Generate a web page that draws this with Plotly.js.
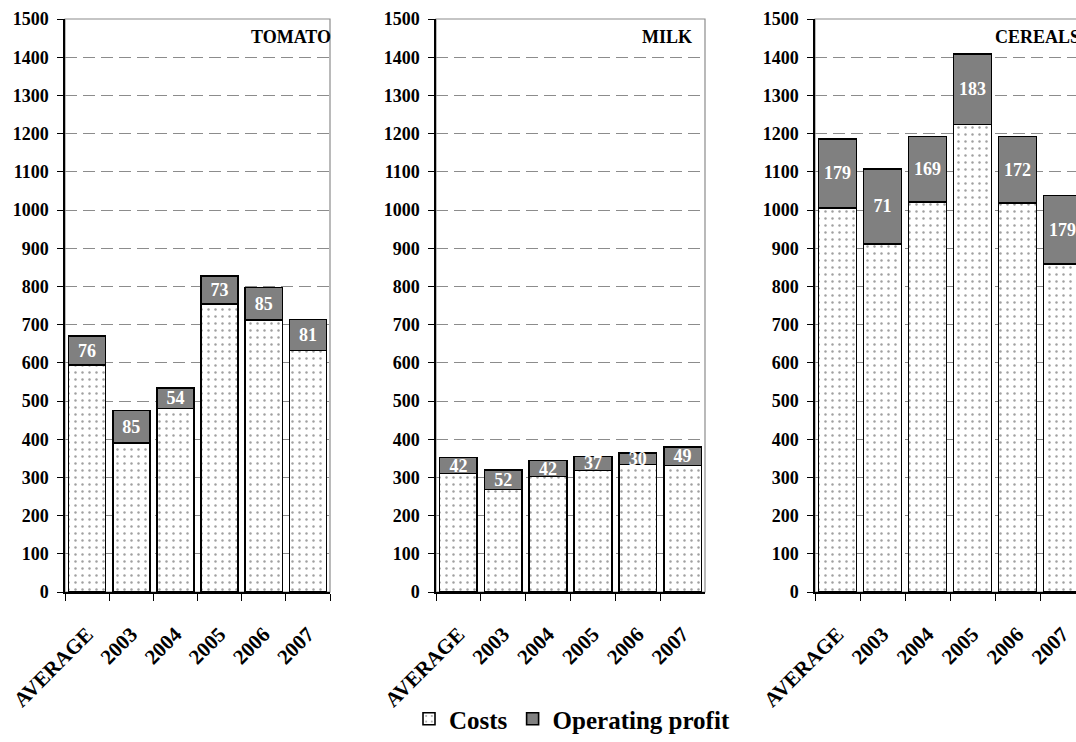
<!DOCTYPE html>
<html>
<head>
<meta charset="utf-8">
<script src="https://cdn.plot.ly/plotly-3.0.1.min.js"></script>
<style>
html, body { margin: 0; padding: 0; overflow: hidden; background: #fff; width: 1076px; height: 742px; }
#chart { width: 1100px; height: 742px; }
</style>
</head>
<body>
<div id="chart"></div>
<script>
// ---- data ----
const categories = ['AVERAGE', '2003', '2004', '2005', '2006', '2007'];

const tomatoCosts = [594, 390, 480, 754, 712, 632];
const tomatoProfit = [76, 85, 54, 73, 85, 81];
const tomatoProfitLabels = ['76', '85', '54', '73', '85', '81'];

const milkCosts = [310, 268, 302, 318, 334, 331];
const milkProfit = [42, 52, 42, 37, 30, 49];
const milkProfitLabels = ['42', '52', '42', '37', '30', '49'];

const cerealsCosts = [1006, 911, 1021, 1224, 1019, 859];
const cerealsProfit = [180, 197, 171, 184, 173, 179];
const cerealsProfitLabels = ['179', '71', '169', '183', '172', '179'];

const panelTitles = ['TOMATO', 'MILK', 'CEREALS'];
const seriesNames = ['Costs', 'Operating profit'];

// ---- styling ----
const FONT = 'Liberation Serif, Times New Roman, serif';
const W = 1100;
const costMarker = {
  color: '#ffffff',
  line: { color: '#000000', width: 1.6 },
  pattern: { shape: '.', size: 7, solidity: 0.1, fgcolor: '#a0a0a0', bgcolor: '#ffffff', fillmode: 'replace' }
};
const profitMarker = { color: '#808080', line: { color: '#000000', width: 1.6 } };

const panels = [
  { costs: tomatoCosts, profit: tomatoProfit, labels: tomatoProfitLabels, xa: 'x', ya: 'y' },
  { costs: milkCosts, profit: milkProfit, labels: milkProfitLabels, xa: 'x2', ya: 'y2' },
  { costs: cerealsCosts, profit: cerealsProfit, labels: cerealsProfitLabels, xa: 'x3', ya: 'y3' }
];

const traces = [];
panels.forEach((p, i) => {
  traces.push({
    type: 'bar', name: seriesNames[0], x: categories, y: p.costs,
    xaxis: p.xa, yaxis: p.ya, marker: costMarker,
    legendgroup: 'costs', showlegend: i === 0, hoverinfo: 'y'
  });
  traces.push({
    type: 'bar', name: seriesNames[1], x: categories, y: p.profit,
    xaxis: p.xa, yaxis: p.ya, marker: profitMarker,
    text: p.labels, textposition: 'inside', insidetextanchor: 'middle',
    constraintext: 'none', textangle: 0,
    textfont: { family: FONT, size: 18, color: '#ffffff', weight: 'bold' },
    legendgroup: 'profit', showlegend: i === 0, hoverinfo: 'y'
  });
});

const px = v => v / W;
const domains = [[px(65), px(330)], [px(436), px(705)], [px(815), px(1085)]];

function xAxis(dom, anchor) {
  return {
    domain: dom, anchor: anchor, type: 'category',
    showline: true, linecolor: '#000000', linewidth: 1.5,
    ticks: 'outside', tickson: 'boundaries', ticklen: 7, tickcolor: '#000000', tickwidth: 1.2,
    tickangle: -45, ticklabelstandoff: 20, showgrid: false, zeroline: false,
    tickfont: { family: FONT, size: 21, color: '#000000', weight: 'bold' }
  };
}
function yAxis(anchor) {
  return {
    anchor: anchor, domain: [0, 1], range: [0, 1500], dtick: 100, tick0: 0,
    showline: true, linecolor: '#000000', linewidth: 1.5,
    ticks: 'outside', ticklen: 6, tickcolor: '#000000', tickwidth: 1.2,
    ticklabelstandoff: 5,
    showgrid: true, gridcolor: '#8c8c8c', gridwidth: 1, griddash: '12px,6px',
    zeroline: false, fixedrange: true,
    tickfont: { family: FONT, size: 18, color: '#000000', weight: 'bold' }
  };
}

const shapes = [['x', 'y'], ['x2', 'y2'], ['x3', 'y3']].map(([xa, ya]) => ({
  type: 'rect', xref: xa + ' domain', yref: ya + ' domain',
  x0: 0, x1: 1, y0: 0, y1: 1, line: { color: '#8c8c8c', width: 1.2 },
  fillcolor: 'rgba(0,0,0,0)', layer: 'below'
}));

const titleY = (599 - 37) / 580;
const annotations = [
  { text: panelTitles[0], x: px(333), xanchor: 'right' },
  { text: panelTitles[1], x: px(694), xanchor: 'right' },
  { text: panelTitles[2], x: px(993), xanchor: 'left' }
].map(a => Object.assign({
  xref: 'paper', yref: 'paper', y: titleY, yanchor: 'middle', showarrow: false,
  font: { family: FONT, size: 18, color: '#000000', weight: 'bold' }
}, a));

const layout = {
  width: W, height: 742,
  margin: { l: 0, r: 0, t: 19, b: 143, pad: 0 },
  paper_bgcolor: '#ffffff', plot_bgcolor: '#ffffff',
  barmode: 'stack', bargap: 0.16,
  font: { family: FONT, color: '#000000' },
  xaxis: xAxis(domains[0], 'y'), yaxis: yAxis('x'),
  xaxis2: xAxis(domains[1], 'y2'), yaxis2: yAxis('x2'),
  xaxis3: xAxis(domains[2], 'y3'), yaxis3: yAxis('x3'),
  shapes: shapes,
  annotations: annotations,
  showlegend: true,
  legend: {
    orientation: 'h', x: px(572), xanchor: 'center', y: -(728 - 599) / 580, yanchor: 'middle',
    font: { family: FONT, size: 25, color: '#000000', weight: 'bold' },
    bgcolor: 'rgba(0,0,0,0)', traceorder: 'normal', itemwidth: 30
  }
};

Plotly.newPlot('chart', traces, layout, { displayModeBar: false });
</script>
</body>
</html>
